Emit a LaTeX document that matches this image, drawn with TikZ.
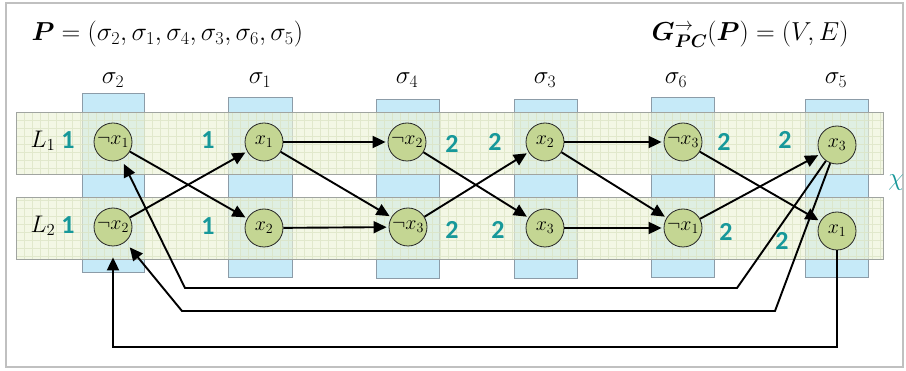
\RequirePackage{fix-cm}
\documentclass[tikz,border=0pt]{standalone}
\usepackage{amsmath,bm}
\usepackage{fontspec}
\newfontfamily\numfont{Carlito}
\usetikzlibrary{arrows.meta}
\definecolor{colfill}{HTML}{C6EAF8}
\definecolor{colline}{HTML}{8C9CA8}
\definecolor{bandfill}{HTML}{EDF3D8}
\definecolor{bandgrid}{HTML}{DAE3C2}
\definecolor{bandline}{HTML}{A0A4A0}
\definecolor{nodefill}{HTML}{C4D693}
\definecolor{tealc}{HTML}{17989A}
\definecolor{framec}{HTML}{C0C0C0}
\tikzset{
  lit/.style={circle, draw=black!85, line width=0.8pt, fill=nodefill, minimum size=38pt, inner sep=0pt, font=\fontsize{20}{20}\selectfont},
  arr/.style={line width=1.9pt, -{Triangle[length=13pt,width=12pt]}, shorten >=2pt},
  num/.style={text=tealc, font=\numfont\bfseries\fontsize{26}{26}\selectfont},
  sig/.style={font=\fontsize{25}{25}\selectfont},
  lab/.style={font=\fontsize{26}{26}\selectfont},
  rowlab/.style={font=\fontsize{24}{24}\selectfont}
}
\newcommand{\litbox}[1]{\makebox[0pt]{$#1$}}
\begin{document}
\begin{tikzpicture}[x=1pt,y=-1pt]
\useasboundingbox (0,0) rectangle (906,371);
\fill[white] (0,0) rectangle (906,371);
\draw[framec, line width=1.5pt] (6,3) rectangle (903,367);
% columns
\foreach \a/\b/\t/\bt in {82/144/93/272, 228/292/97/277, 376/439/99/278, 514/577/99/278, 651/714/97/277, 805/868/99/277}{
  \draw[colline, fill=colfill, line width=0.8pt] (\a,\t) rectangle (\b,\bt);
}
% bands
\foreach \t/\bt in {112/174, 197/259}{
  \begin{scope}
    \clip (16,\t) rectangle (883,\bt);
    \fill[bandfill, fill opacity=0.65] (16,\t) rectangle (883,\bt);
    \draw[bandgrid, opacity=0.7, line width=0.4pt, step=8pt] (16,\t) grid (883,\bt);
  \end{scope}
  \draw[bandline, line width=0.9pt] (16,\t) rectangle (883,\bt);
}
% column labels
\node[sig] (l2) at (113,80) {$\sigma_2$};
\node[sig] (l1) at (260,80) {$\sigma_1$};
\node[sig] (l4) at (407,80) {$\sigma_4$};
\node[sig] (l3) at (545,80) {$\sigma_3$};
\node[sig] (l6) at (676,80) {$\sigma_6$};
\node[sig] (l5) at (836,80) {$\sigma_5$};
% titles
\node[lab, anchor=west] (tp) at (28,34) {$\bm{P} = (\sigma_2, \sigma_1, \sigma_4, \sigma_3, \sigma_6, \sigma_5)$};
\node[lab, anchor=east] (tg) at (852,34) {$\bm{G}_{\bm{PC}}^{\rightarrow}(\bm{P}) = (V, E)$};
% row labels
\node[rowlab] (L1) at (43,141) {$L_1$};
\node[rowlab] (L2) at (43,226) {$L_2$};
% numbers
\node[num] (n1) at (68,140) {1};
\node[num] (n2) at (68,225) {1};
\node[num] (n3) at (208,140) {1};
\node[num] (n4) at (208,226) {1};
\node[num] (n5) at (452,144) {2};
\node[num] (n6) at (495,142) {2};
\node[num] (n7) at (452,230) {2};
\node[num] (n8) at (498,230) {2};
\node[num] (n9) at (724,142) {2};
\node[num] (n10) at (785,140) {2};
\node[num] (n11) at (726,232) {2};
\node[num] (n12) at (782,241) {2};
\node[text=tealc, font=\fontsize{25}{25}\selectfont] (chi) at (896,183) {$\chi$};
% literals
\node[lit] (s2a) at (113,142) {\litbox{\neg x_1}};
\node[lit] (s2b) at (113,227) {\litbox{\neg x_2}};
\node[lit] (s1a) at (264,142) {\litbox{x_1}};
\node[lit] (s1b) at (264,228) {\litbox{x_2}};
\node[lit] (s4a) at (407,142) {\litbox{\neg x_2}};
\node[lit] (s4b) at (408,227) {\litbox{\neg x_3}};
\node[lit] (s3a) at (545,142) {\litbox{x_2}};
\node[lit] (s3b) at (545,228) {\litbox{x_3}};
\node[lit] (s6a) at (683,142) {\litbox{\neg x_3}};
\node[lit] (s6b) at (683,228) {\litbox{\neg x_1}};
\node[lit] (s5a) at (837,145) {\litbox{x_3}};
\node[lit] (s5b) at (837,231) {\litbox{x_1}};
% edges
\draw[arr] (s2a) -- (s1b);
\draw[arr] (s2b) -- (s1a);
\draw[arr] (s1a) -- (s4a);
\draw[arr] (s1a) -- (s4b);
\draw[arr] (s1b) -- (s4b);
\draw[arr] (s4a) -- (s3b);
\draw[arr] (s4b) -- (s3a);
\draw[arr] (s3a) -- (s6a);
\draw[arr] (s3a) -- (s6b);
\draw[arr] (s3b) -- (s6b);
\draw[arr] (s6a) -- (s5b);
\draw[arr] (s6b) -- (s5a);
% return loops
\coordinate (r1a) at (737,288);
\coordinate (r1b) at (185,288);
\coordinate (r2a) at (775,311);
\coordinate (r2b) at (182,311);
\coordinate (r3) at (475,347);
\draw[arr, shorten >=5pt, line join=miter] (s5a) -- (r1a) -- (r1b) -- (s2a);
\draw[arr, shorten >=7pt, line join=miter] (s5a) -- (r2a) -- (r2b) -- (s2b);
\draw[arr, shorten >=11pt, line join=miter] (s5b) |- (r3) -| (s2b);
\end{tikzpicture}
\end{document}
